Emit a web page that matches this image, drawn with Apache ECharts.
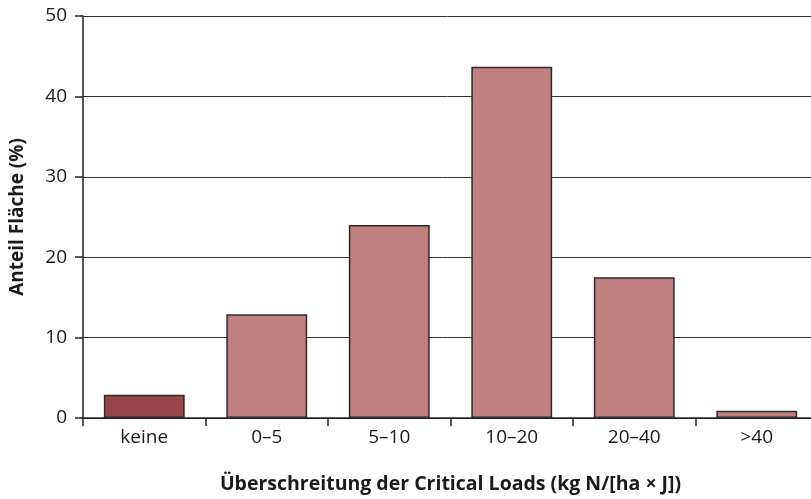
<!DOCTYPE html>
<html>
<head>
<meta charset="utf-8">
<script src="https://cdn.jsdelivr.net/npm/echarts@6/dist/echarts.min.js"></script>
<style>
html,body{margin:0;padding:0;background:#fff;}
#chart{width:811px;height:499px;}
</style>
</head>
<body>
<div id="chart"></div>
<script>
var categories = ['keine', '0–5', '5–10', '10–20', '20–40', '>40'];
var values = [2.9, 12.9, 24.0, 43.7, 17.5, 0.9];
var barColors = ['#98464a', '#c08080', '#c08080', '#c08080', '#c08080', '#c08080'];
var yTicks = [0, 10, 20, 30, 40, 50];

var FONT = '"Open Sans"';
var chart = echarts.init(document.getElementById('chart'), null, {renderer: 'canvas'});
chart.setOption({
  animation: false,
  backgroundColor: '#ffffff',
  grid: {left: 83, top: 16, height: 402, width: 735, containLabel: false, outerBoundsMode: 'none'},
  xAxis: {
    type: 'category',
    data: categories,
    name: 'Überschreitung der Critical Loads (kg N/[ha × J])',
    nameLocation: 'middle',
    nameGap: 56,
    nameTextStyle: {fontFamily: FONT, fontSize: 19.5, fontWeight: 'bold', color: '#1a1a1a'},
    axisLine: {lineStyle: {color: '#222', width: 1.5}},
    axisTick: {show: true, length: 8, alignWithLabel: false, lineStyle: {color: '#222', width: 1.5}},
    axisLabel: {fontFamily: FONT, fontSize: 19, color: '#1a1a1a', margin: 10},
    splitLine: {show: false}
  },
  yAxis: {
    type: 'value',
    min: yTicks[0],
    max: yTicks[yTicks.length - 1],
    interval: 10,
    name: 'Anteil Fläche (%)',
    nameLocation: 'middle',
    nameGap: 56,
    nameRotate: 90,
    nameTextStyle: {fontFamily: FONT, fontSize: 19, fontWeight: 'bold', color: '#1a1a1a'},
    axisLine: {show: true, lineStyle: {color: '#222', width: 1.5}},
    axisTick: {show: true, length: 8, lineStyle: {color: '#222', width: 1.5}},
    axisLabel: {fontFamily: FONT, fontSize: 19, color: '#1a1a1a', margin: 16},
    splitLine: {show: true, lineStyle: {color: '#333', width: 1}}
  },
  series: [{
    type: 'bar',
    data: values.map(function (v, i) {
      return {value: v, itemStyle: {color: barColors[i]}};
    }),
    barCategoryGap: '34%',
    itemStyle: {borderColor: '#2a2a2a', borderWidth: 1.5}
  }]
});
</script>
</body>
</html>
